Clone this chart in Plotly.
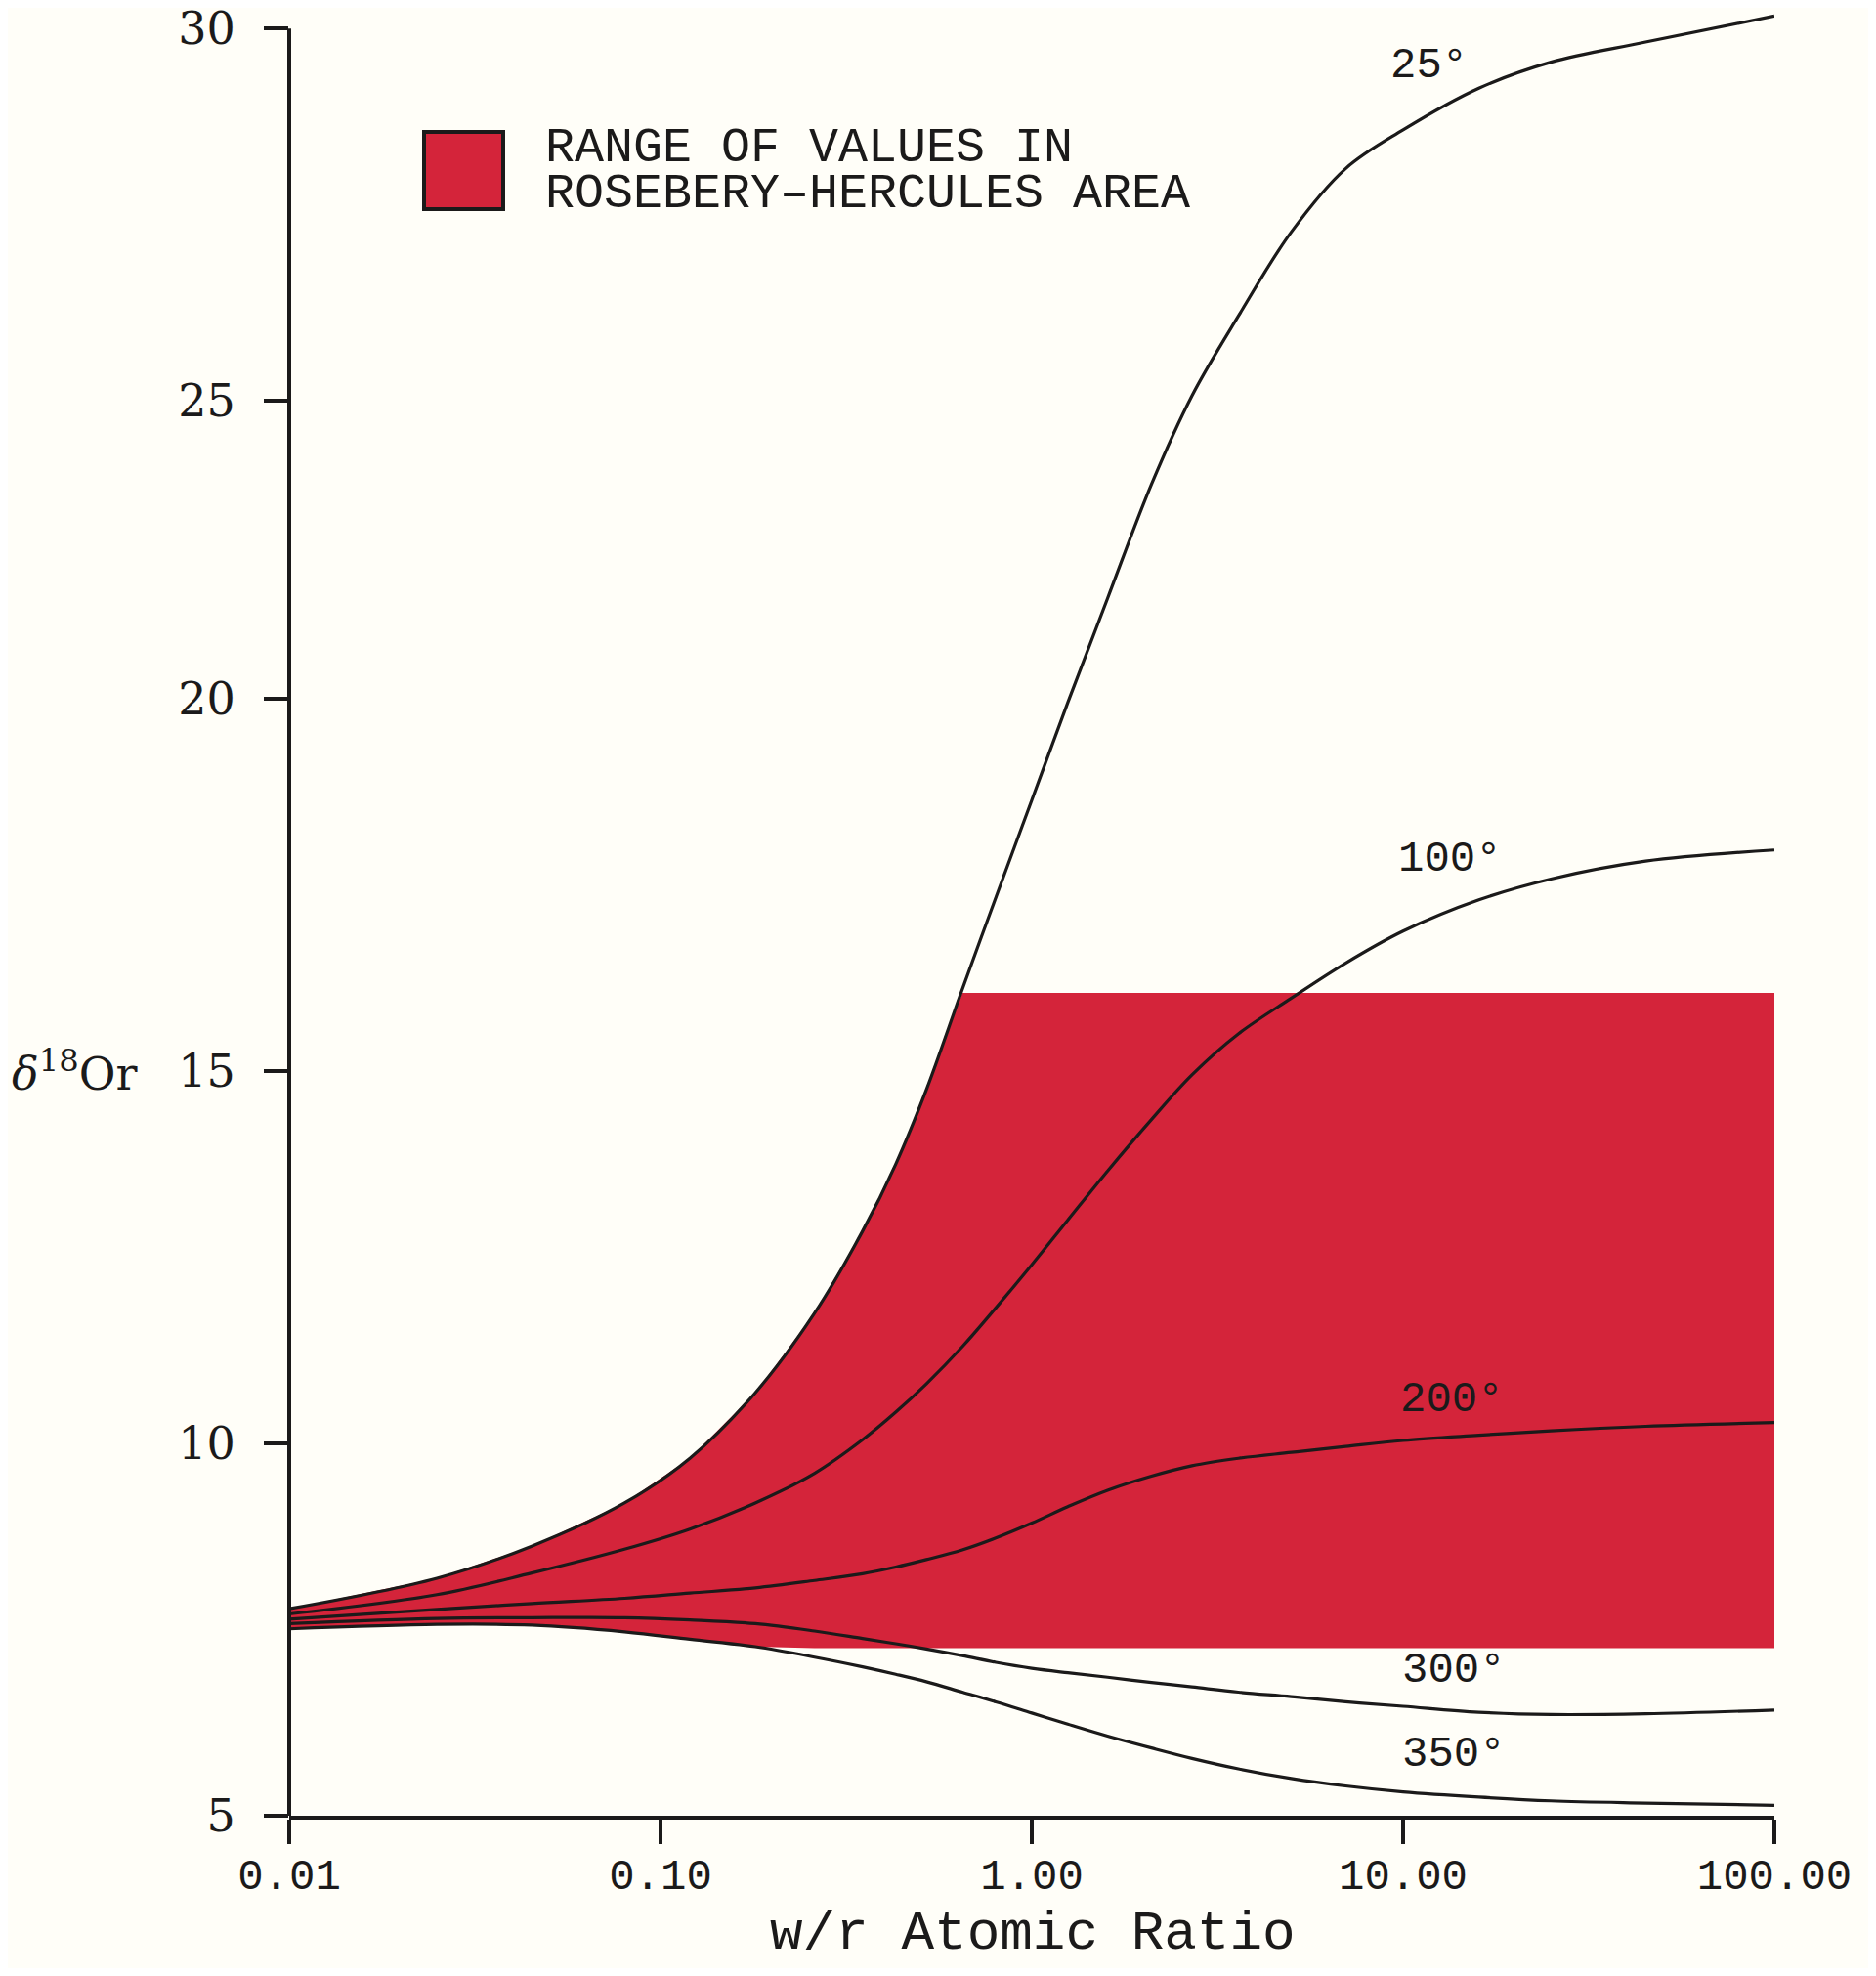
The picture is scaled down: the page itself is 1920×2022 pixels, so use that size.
import numpy as np
import plotly.graph_objects as go

# ---- data ----
wr = [0.01, 0.025, 0.045, 0.08, 0.12, 0.18, 0.26, 0.35, 0.43, 0.52, 0.65, 0.8,
      1.0, 1.25, 1.6, 2.1, 2.7, 3.6, 5, 7, 10, 16, 25, 45, 100]

d18o_25 = [7.78, 8.19, 8.62, 9.2, 9.8, 10.68, 11.75, 12.85, 13.75, 14.75, 16.1, 17.33,
           18.64, 19.95, 21.35, 22.88, 24.07, 25.14, 26.27, 27.12, 27.64, 28.2, 28.55, 28.82, 29.17]
d18o_100 = [7.71, 7.97, 8.26, 8.58, 8.85, 9.2, 9.6, 10.05, 10.42, 10.8, 11.3, 11.82,
            12.4, 13.0, 13.66, 14.35, 14.95, 15.5, 15.98, 16.45, 16.88, 17.3, 17.58, 17.82, 17.97]
d18o_200 = [7.64, 7.77, 7.85, 7.92, 7.99, 8.06, 8.16, 8.25, 8.34, 8.44, 8.57, 8.73,
            8.93, 9.15, 9.37, 9.56, 9.7, 9.8, 9.88, 9.96, 10.04, 10.11, 10.17, 10.23, 10.28]
d18o_300 = [7.58, 7.65, 7.66, 7.66, 7.63, 7.58, 7.48, 7.38, 7.31, 7.24, 7.15, 7.06,
            6.98, 6.92, 6.86, 6.79, 6.73, 6.66, 6.6, 6.53, 6.47, 6.39, 6.36, 6.37, 6.42]
d18o_350 = [7.51, 7.57, 7.56, 7.47, 7.37, 7.27, 7.13, 7.0, 6.9, 6.8, 6.66, 6.53,
            6.38, 6.23, 6.07, 5.91, 5.77, 5.63, 5.5, 5.4, 5.32, 5.25, 5.2, 5.17, 5.14]

range_low = 7.25     # Rosebery-Hercules range of values
range_high = 16.05

curve_labels = ["25°", "100°", "200°", "300°", "350°"]

x_tickvals = [0.01, 0.1, 1, 10, 100]
x_ticktext = ["0.01", "0.10", "1.00", "10.00", "100.00"]
y_tickvals = [5, 10, 15, 20, 24.0, 29.0]
y_ticktext = ["5", "10", "15", "20", "25", "30"]

# ---- styling ----
INK = "#1b1a1a"
RED = "#d4243a"
BG = "#fffef8"
MONO = "Liberation Mono"
SERIF = "DejaVu Serif"

fig = go.Figure()

# shaded range: between max(350°, low) and min(25°, high)
lower = np.maximum(np.array(d18o_350), range_low)
upper = np.minimum(np.array(d18o_25), range_high)
fig.add_trace(go.Scatter(x=wr, y=lower, mode="lines", line=dict(width=0, color=RED),
                         showlegend=False, hoverinfo="skip"))
fig.add_trace(go.Scatter(x=wr, y=upper, mode="lines", line=dict(width=0, color=RED),
                         fill="tonexty", fillcolor=RED, showlegend=False, hoverinfo="skip"))

for ys in [d18o_25, d18o_100, d18o_200, d18o_300, d18o_350]:
    fig.add_trace(go.Scatter(x=wr, y=ys, mode="lines",
                             line=dict(color=INK, width=3.2, shape="spline", smoothing=1.0),
                             showlegend=False))

# curve labels
label_pos = [(1.071, 28.5), (1.126, 17.85), (1.132, 10.59), (1.137, 6.96), (1.137, 5.83)]
for txt, (lx, ly) in zip(curve_labels, label_pos):
    fig.add_annotation(x=lx, y=ly, xref="x", yref="y", text=txt, showarrow=False,
                       font=dict(family=MONO, size=44, color=INK),
                       xanchor="center", yanchor="middle")

# legend (box + two text lines)
fig.add_shape(type="rect", xref="paper", yref="paper",
              x0=(434 - 296) / 1520, x1=(515 - 296) / 1520,
              y0=(1858 - 214) / 1850, y1=(1858 - 135) / 1850,
              fillcolor=RED, line=dict(color=INK, width=4))
fig.add_annotation(xref="paper", yref="paper", x=(556 - 296) / 1520, y=(1858 - 152) / 1850,
                   text="RANGE OF VALUES IN", showarrow=False, xanchor="left", yanchor="middle",
                   font=dict(family=MONO, size=50, color=INK))
fig.add_annotation(xref="paper", yref="paper", x=(556 - 296) / 1520, y=(1858 - 199) / 1850,
                   text="ROSEBERY–HERCULES AREA", showarrow=False, xanchor="left", yanchor="middle",
                   font=dict(family=MONO, size=50, color=INK))

# axis titles
fig.add_annotation(xref="paper", yref="y", x=(10 - 296) / 1520, y=15,
                   text="<i>δ</i><sup>18</sup>Or", showarrow=False, xanchor="left", yanchor="middle",
                   font=dict(family=SERIF, size=46, color=INK))
fig.add_annotation(xref="paper", yref="paper", x=(1057 - 296) / 1520, y=(1858 - 1979) / 1850,
                   text="w/r Atomic Ratio", showarrow=False, xanchor="center", yanchor="middle",
                   font=dict(family=MONO, size=56, color=INK))

# y axis line (ends at the top tick)
fig.add_shape(type="line", xref="paper", yref="y", x0=0, x1=0, y0=5, y1=29.0,
              line=dict(color=INK, width=4))

# page body adds an 8px margin, so the figure is 16px smaller than the window
fig.update_layout(
    width=1904, height=2006,
    margin=dict(l=288, r=96, t=0, b=156),
    paper_bgcolor=BG, plot_bgcolor=BG,
    showlegend=False,
    xaxis=dict(type="log", range=[-2, 2], tickvals=x_tickvals, ticktext=x_ticktext,
               ticks="outside", ticklen=25, tickwidth=4, tickcolor=INK,
               showline=True, linewidth=4, linecolor=INK, automargin=False,
               showgrid=False, zeroline=False, ticklabelstandoff=-7,
               tickfont=dict(family=MONO, size=44, color=INK)),
    yaxis=dict(range=[5, 29.28], tickvals=y_tickvals, ticktext=y_ticktext,
               ticks="outside", ticklen=25, tickwidth=4, tickcolor=INK,
               showline=False, showgrid=False, zeroline=False, ticklabelstandoff=20,
               ticklabeloverflow="allow", automargin=False,
               tickfont=dict(family=SERIF, size=46, color=INK)),
)

fig.write_html("out.html")
